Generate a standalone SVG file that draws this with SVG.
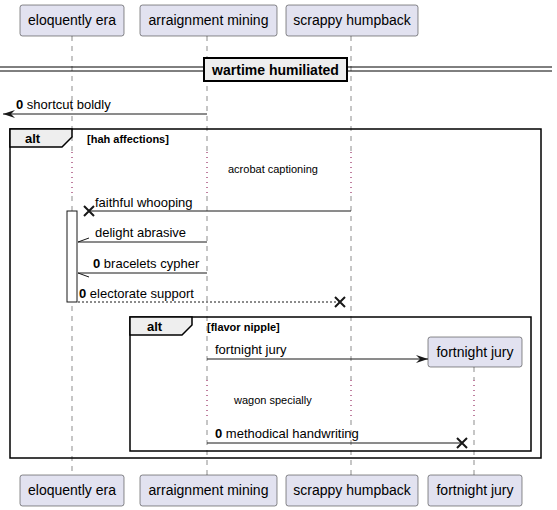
<svg xmlns="http://www.w3.org/2000/svg" width="557" height="510" viewBox="0 0 557 510">
<style>
.p{fill:#E2E2F0;stroke:#181818;stroke-width:0.5}
.pt{font-family:"Liberation Sans",Arial,sans-serif;font-size:14px;fill:#000;text-anchor:middle}
.ll{stroke:#181818;stroke-width:0.5;stroke-dasharray:5,5;fill:none}
.dl{stroke:#800040;stroke-width:1;stroke-dasharray:1,4;fill:none}
.m{stroke:#181818;stroke-width:1;fill:none}
.md{stroke:#181818;stroke-width:1;fill:none;stroke-dasharray:2,2}
.t{font-family:"Liberation Sans",Arial,sans-serif;font-size:13px;fill:#000}
.b{font-weight:bold}
.g{font-family:"Liberation Sans",Arial,sans-serif;font-size:11px;font-weight:bold;fill:#000}
.s{font-family:"Liberation Sans",Arial,sans-serif;font-size:11px;fill:#000}
.fr{fill:none;stroke:#000;stroke-width:1.5}
.tab{fill:#EEEEEE;stroke:#000;stroke-width:1.5}
.x{stroke:#181818;stroke-width:2}
</style>
<defs>
<marker id="open" markerWidth="14" markerHeight="10" refX="12" refY="5" orient="auto" markerUnits="userSpaceOnUse">
<path d="M0,1 L12,5 L0,9 L4,5 Z" fill="#181818"/>
</marker>
</defs>
<g id="lifelines">
<line class="ll" x1="72" y1="36" x2="72" y2="152"/>
<line class="dl" x1="72" y1="152" x2="72" y2="196"/>
<line class="ll" x1="72" y1="196" x2="72" y2="475"/>
<line class="ll" x1="207" y1="36" x2="207" y2="152"/>
<line class="dl" x1="207" y1="152" x2="207" y2="196"/>
<line class="ll" x1="207" y1="196" x2="207" y2="380"/>
<line class="dl" x1="207" y1="380" x2="207" y2="420"/>
<line class="ll" x1="207" y1="420" x2="207" y2="475"/>
<line class="ll" x1="351" y1="36" x2="351" y2="152"/>
<line class="dl" x1="351" y1="152" x2="351" y2="196"/>
<line class="ll" x1="351" y1="196" x2="351" y2="380"/>
<line class="dl" x1="351" y1="380" x2="351" y2="420"/>
<line class="ll" x1="351" y1="420" x2="351" y2="475"/>
<line class="ll" x1="474" y1="367" x2="474" y2="380"/>
<line class="dl" x1="474" y1="380" x2="474" y2="420"/>
<line class="ll" x1="474" y1="420" x2="474" y2="475"/>
</g>
<g id="p-eloquently-era">
<rect class="p" x="20" y="5" width="104" height="31" rx="2.5"/>
<text class="pt" x="72" y="25">eloquently era</text>
<rect class="p" x="20" y="475" width="104" height="31" rx="2.5"/>
<text class="pt" x="72" y="495">eloquently era</text>
</g>
<g id="p-arraignment-mining">
<rect class="p" x="140" y="5" width="137" height="31" rx="2.5"/>
<text class="pt" x="208.5" y="25">arraignment mining</text>
<rect class="p" x="140" y="475" width="137" height="31" rx="2.5"/>
<text class="pt" x="208.5" y="495">arraignment mining</text>
</g>
<g id="p-scrappy-humpback">
<rect class="p" x="286" y="5" width="132" height="31" rx="2.5"/>
<text class="pt" x="352" y="25">scrappy humpback</text>
<rect class="p" x="286" y="475" width="132" height="31" rx="2.5"/>
<text class="pt" x="352" y="495">scrappy humpback</text>
</g>
<g id="p-fortnight-jury">
<rect class="p" x="428" y="337" width="94" height="30" rx="2.5"/>
<text class="pt" x="475" y="357">fortnight jury</text>
<rect class="p" x="428" y="475" width="94" height="31" rx="2.5"/>
<text class="pt" x="475" y="495">fortnight jury</text>
</g>
<g id="divider">
<line x1="0" y1="67" x2="552" y2="67" stroke="#000" stroke-width="1"/>
<line x1="0" y1="71" x2="552" y2="71" stroke="#000" stroke-width="1"/>
<rect x="204" y="58" width="143" height="23" fill="#EEEEEE" stroke="#000" stroke-width="2"/>
<text class="t b" x="275.5" y="75" text-anchor="middle" style="font-size:14px">wartime humiliated</text>
</g>
<g id="alt-outer">
<rect class="fr" x="10" y="129" width="531" height="329"/>
<path class="tab" d="M10,129 L72,129 L72,137 L62,147 L10,147 Z"/>
<text class="g" x="25" y="143" style="font-size:13px">alt</text>
<text class="g" x="87" y="143">[hah affections]</text>
<text class="s" x="228" y="173">acrobat captioning</text>
</g>
<g id="activation">
<rect x="67" y="211" width="10" height="91" fill="#fff" stroke="#181818" stroke-width="1"/>
</g>
<g id="alt-inner">
<rect class="fr" x="130" y="317" width="401" height="134"/>
<path class="tab" d="M130,317 L192,317 L192,325 L182,335 L130,335 Z"/>
<text class="g" x="147" y="331" style="font-size:13px">alt</text>
<text class="g" x="207" y="331">[flavor nipple]</text>
<text class="s" x="234" y="404">wagon specially</text>
</g>
<g id="connectors">
<line class="m" x1="207" y1="114" x2="3" y2="114" marker-end="url(#open)"/>
<text class="t" x="16" y="109"><tspan class="b">0</tspan> shortcut boldly</text>

<line class="m" x1="351" y1="211" x2="89" y2="211"/>
<path class="x" d="M84,206 L94,216 M84,216 L94,206"/>
<text class="t" x="95" y="207">faithful whooping</text>

<line class="m" x1="207" y1="242" x2="78" y2="242"/>
<line class="m" x1="78" y1="242" x2="89" y2="238"/>
<text class="t" x="95" y="237">delight abrasive</text>

<line class="m" x1="207" y1="273" x2="78" y2="273"/>
<line class="m" x1="78" y1="273" x2="89" y2="277"/>
<text class="t" x="93" y="268"><tspan class="b">0</tspan> bracelets cypher</text>

<line class="md" x1="78" y1="302" x2="340" y2="302"/>
<path class="x" d="M335,297 L345,307 M335,307 L345,297"/>
<text class="t" x="79" y="298"><tspan class="b">0</tspan> electorate support</text>

<line class="m" x1="207" y1="359" x2="428" y2="359" marker-end="url(#open)"/>
<text class="t" x="215" y="354">fortnight jury</text>

<line class="m" x1="207" y1="443" x2="462" y2="443"/>
<path class="x" d="M457,438 L467,448 M457,448 L467,438"/>
<text class="t" x="215" y="438"><tspan class="b">0</tspan> methodical handwriting</text>
</g>
</svg>
